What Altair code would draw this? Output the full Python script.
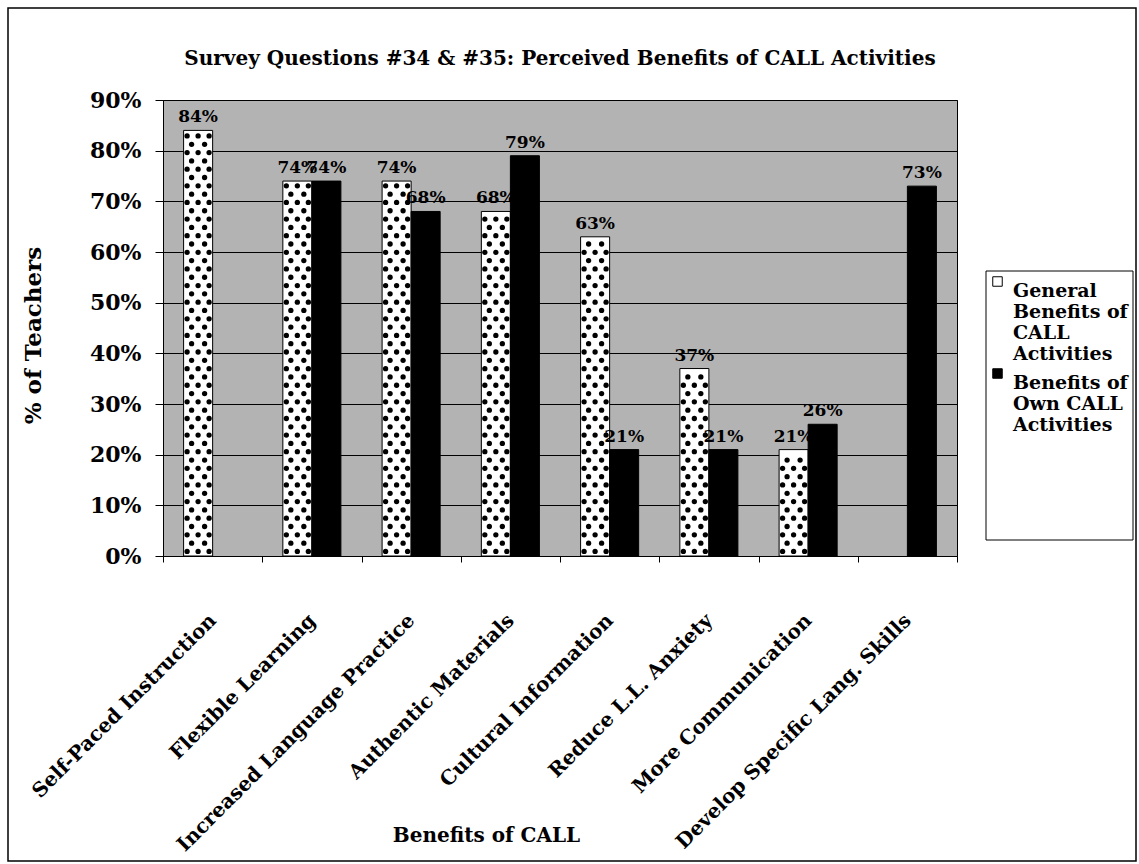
import altair as alt
import pandas as pd

categories = [
    "Self-Paced Instruction",
    "Flexible Learning",
    "Increased Language Practice",
    "Authentic Materials",
    "Cultural Information",
    "Reduce L.L. Anxiety",
    "More Communication",
    "Develop Specific Lang. Skills",
]
series = ["General Benefits of CALL Activities", "Benefits of Own CALL Activities"]
general_pct = [84, 74, 74, 68, 63, 37, 21, 0]
own_pct = [0, 74, 68, 79, 21, 21, 26, 73]
y_ticks = [0, 0.1, 0.2, 0.3, 0.4, 0.5, 0.6, 0.7, 0.8, 0.9]

rows = []
for cat, g, o in zip(categories, general_pct, own_pct):
    rows.append({"benefit": cat, "series": series[0], "value": g / 100})
    rows.append({"benefit": cat, "series": series[1], "value": o / 100})
df = pd.DataFrame(rows)

FONT = "DejaVu Serif"
W, H = 794, 456
PAD_L, PAD_T = 163, 100
TOTAL_W, TOTAL_H = 1139, 864

# band layout: each category band holds two bars of ~29 px, centred
X_PAD_OUTER = 0.71
x_scale = alt.Scale(domain=categories, paddingInner=0, paddingOuter=0)

x_enc = alt.X(
    "benefit:N",
    sort=categories,
    scale=x_scale,
    axis=alt.Axis(
        title="Benefits of CALL",
        titleFont=FONT,
        titleFontSize=20,
        titleFontWeight="bold",
        titleX=323,
        titleY=279,
        titleBaseline="middle",
        labelFont=FONT,
        labelFontSize=20,
        labelFontWeight="bold",
        labelAngle=-45,
        labelAlign="right",
        labelBaseline="middle",
        labelPadding=55,
        labelLimit=500,
        labelColor="black",
        tickBand="extent",
        tickColor="black",
        tickSize=6,
        domainColor="black",
        grid=False,
    ),
)
xoff_enc = alt.XOffset(
    "series:N", sort=series,
    scale=alt.Scale(domain=series, paddingInner=0, paddingOuter=X_PAD_OUTER),
)
y_enc = alt.Y(
    "value:Q",
    scale=alt.Scale(domain=[0, 0.9], nice=False),
    axis=alt.Axis(
        title="% of Teachers",
        titleFont=FONT,
        titleFontSize=23,
        titleFontWeight="bold",
        titleX=-130,
        titleY=H / 2 + 7,
        titleAlign="center",
        titleBaseline="middle",
        labelFont=FONT,
        labelFontSize=22,
        labelFontWeight="bold",
        labelColor="black",
        labelPadding=14,
        format=".0%",
        values=y_ticks,
        tickColor="black",
        tickSize=8,
        domainColor="black",
        gridColor="black",
        gridOpacity=1,
        gridWidth=1,
    ),
)

bars = (
    alt.Chart(df)
    .transform_filter("datum.value > 0")
    .mark_bar(stroke="black", strokeWidth=1, opacity=1)
    .encode(
        x=x_enc,
        xOffset=xoff_enc,
        y=y_enc,
        color=alt.Color(
            "series:N",
            sort=series,
            scale=alt.Scale(domain=series, range=["#ffffff", "#000000"]),
            legend=alt.Legend(
                title=None,
                orient="none",
                legendX=823,
                legendY=170,
                labelFont=FONT,
                labelFontSize=19,
                labelFontWeight="bold",
                labelColor="black",
                labelLimit=200,
                labelBaseline="top",
                labelOffset=6,
                labelExpr=(
                    "datum.label == 'General Benefits of CALL Activities' ? "
                    "['General', 'Benefits of', 'CALL', 'Activities'] : "
                    "['Benefits of', 'Own CALL', 'Activities']"
                ),
                symbolType="square",
                symbolSize=90,
                symbolStrokeColor="black",
                symbolStrokeWidth=1,
                rowPadding=-6,
                padding=2,
                offset=0,
            ),
        ),
    )
)

# dotted fill texture on the "general" bars: rows of dots up to each bar's value
band_px = W / len(categories)
general_center = (X_PAD_OUTER * 29 + 14.5) / band_px
dot_rows = (
    alt.Chart(df)
    .transform_filter(f"datum.series == '{series[0]}' && datum.value > 0")
    .transform_calculate(ys="sequence(0.009, datum.value - 0.007, 0.0164)")
    .transform_flatten(["ys"])
    .transform_window(row="row_number()", groupby=["benefit"], sort=[{"field": "ys"}])
    .transform_calculate(odd="datum.row % 2")
)


def dot_column(px_offset, parity):
    return (
        dot_rows.transform_filter(f"datum.odd == {parity}")
        .mark_point(filled=True, shape="circle", size=28, color="black", opacity=1)
        .encode(
            x=alt.X("benefit:N", sort=categories, bandPosition=general_center + px_offset / band_px),
            y=alt.Y("ys:Q"),
        )
    )


dots = [
    dot_column(-6.5, 0),
    dot_column(6.5, 0),
    dot_column(-11, 1),
    dot_column(0, 1),
    dot_column(11, 1),
]

labels = (
    alt.Chart(df)
    .transform_filter("datum.value > 0")
    .mark_text(
        font=FONT, fontSize=17, fontWeight="bold", color="black",
        baseline="bottom", dy=-4,
    )
    .encode(
        x=alt.X("benefit:N", sort=categories),
        xOffset=alt.XOffset("series:N", sort=series),
        y=alt.Y("value:Q"),
        text=alt.Text("value:Q", format=".0%"),
    )
)

box = pd.DataFrame({"k": [0]})

# white legend panel with a thin border
legend_box = (
    alt.Chart(box)
    .mark_rect(fill="white", stroke="black", strokeWidth=1, clip=False)
    .encode(
        x=alt.value(986 - PAD_L),
        x2=alt.value(1133 - PAD_L),
        y=alt.value(271 - PAD_T),
        y2=alt.value(540 - PAD_T),
    )
)

# outer frame around the whole figure
frame = (
    alt.Chart(box)
    .mark_rect(fill=None, stroke="black", strokeWidth=1.5, clip=False)
    .encode(
        x=alt.value(8 - PAD_L),
        x2=alt.value(TOTAL_W - 3 - PAD_L),
        y=alt.value(8 - PAD_T),
        y2=alt.value(TOTAL_H - 3 - PAD_T),
    )
)

chart = (
    alt.layer(legend_box, bars, *dots, labels, frame)
    .properties(
        width=W,
        height=H,
        title=alt.Title(
            "Survey Questions #34 & #35: Perceived Benefits of CALL Activities",
            font=FONT,
            fontSize=20,
            fontWeight="bold",
            color="black",
            anchor="middle",
            baseline="bottom",
            offset=0,
            dy=82,
        ),
        autosize=alt.AutoSizeParams(type="none"),
        padding={"left": PAD_L, "top": PAD_T, "right": TOTAL_W - PAD_L - W, "bottom": TOTAL_H - PAD_T - H},
        background="white",
    )
    .configure_view(fill="#b3b3b3", stroke="black", strokeWidth=1)
)

chart.save("out.html", embed_options={"renderer": "svg", "actions": False})
